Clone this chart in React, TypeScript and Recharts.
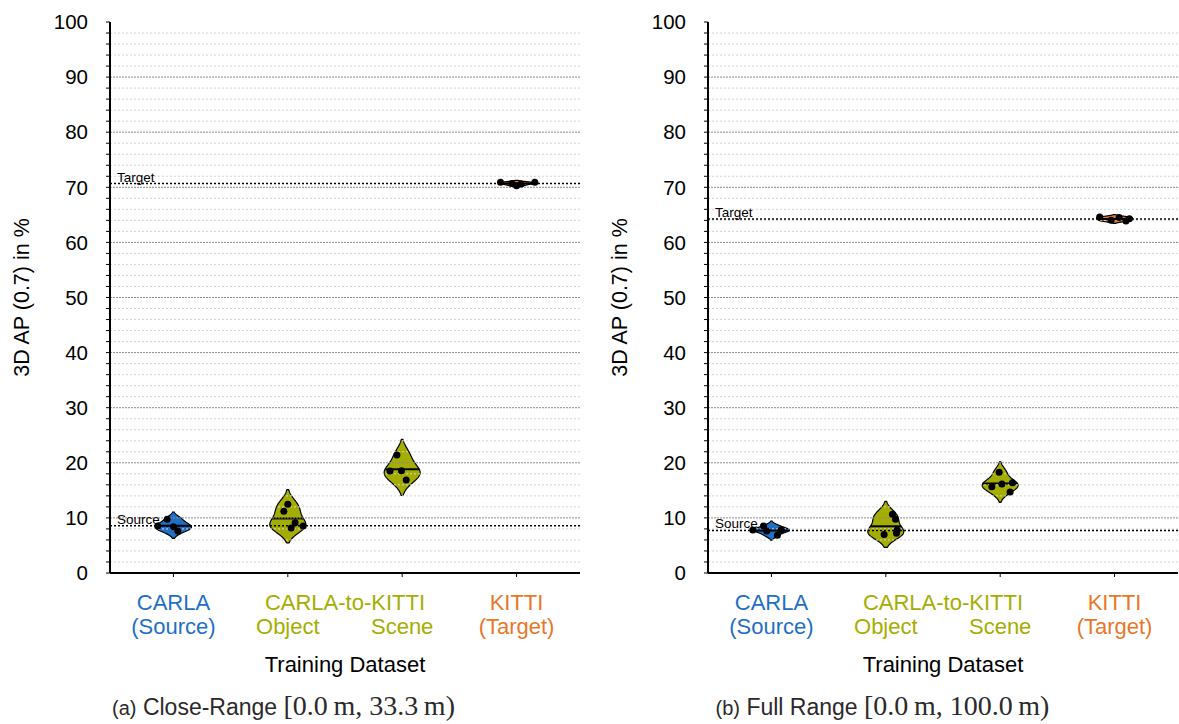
import React from 'react';
import { ComposedChart, Bar, Scatter, XAxis, YAxis, ReferenceLine } from 'recharts';

const FONT = '"Liberation Sans", Arial, Helvetica, sans-serif';
const MATH_FONT = '"Liberation Serif", "Times New Roman", serif';

// one colour per training set (CARLA, Object, Scene, KITTI)
const setColors = ['#1f6fc5', '#a4ae00', '#a4ae00', '#e8772a'];

// x-axis labels: ticks at the four sets plus one shared header between Object and Scene
const tickPositions = [0, 1, 1.5, 2, 3];
const tickTop = ['CARLA', '', 'CARLA-to-KITTI', '', 'KITTI'];
const tickBottom = ['(Source)', 'Object', '', 'Scene', '(Target)'];
const tickColors = ['#1f6fc5', '#a4ae00', '#a4ae00', '#a4ae00', '#e8772a'];

const yLabelTicks = [0, 10, 20, 30, 40, 50, 60, 70, 80, 90, 100];

// 3D AP (0.7) per run, close range [0, 33.3 m)
const closeCarla = [9.74, 8.53, 8.4, 7.62];
const closeObject = [12.47, 11.2, 9.13, 8.17, 8.53];
const closeScene = [21.4, 18.5, 18.57, 16.9];
const closeKitti = [70.9, 70.9, 70.7, 70.3, 70.6];

// strip-plot jitter (in category units)
const closeCarlaJitter = [-0.055, -0.137, 0, 0.038];
const closeObjectJitter = [0, -0.035, 0.064, 0.029, 0.134];
const closeSceneJitter = [-0.046, -0.107, -0.006, 0.035];
const closeKittiJitter = [-0.14, 0.16, -0.04, 0, 0.04];

// 3D AP (0.7) per run, full range [0, 100 m)
const fullCarla = [7.8, 8.53, 7.62, 6.84, 7.86];
const fullObject = [10.65, 9.74, 7.8, 7.2, 7.0];
const fullScene = [18.27, 15.67, 16.15, 16.4, 14.7];
const fullKitti = [64.6, 64.0, 64.5, 63.9, 64.3];

const fullCarlaJitter = [-0.163, -0.07, -0.041, 0.052, 0.085];
const fullObjectJitter = [0.058, 0.085, 0.099, 0.093, -0.015];
const fullSceneJitter = [-0.009, -0.073, 0.015, 0.107, 0.087];
const fullKittiJitter = [-0.13, -0.03, 0.04, 0.1, 0.13];

const X_DOMAIN: [number, number] = [-0.555, 3.555];
const VIOLIN_HALF = 18;

const mean = (v: number[]) => v.reduce((a, b) => a + b, 0) / v.length;

// gaussian KDE with Scott's bandwidth, support cut at 2 bandwidths
function kde(values: number[]) {
  const n = values.length;
  const m = mean(values);
  const sd = Math.sqrt(values.reduce((a, v) => a + (v - m) ** 2, 0) / (n - 1));
  const bw = sd * Math.pow(n, -1 / 5);
  const lo = Math.min(...values) - 2 * bw;
  const hi = Math.max(...values) + 2 * bw;
  const density = (t: number) =>
    values.reduce((a, v) => a + Math.exp(-0.5 * ((t - v) / bw) ** 2), 0);
  return { lo, hi, density };
}

function ViolinShape(props: any) {
  const { x, y, width, height, payload } = props;
  const top = Math.min(y, y + height);
  const h = Math.abs(height);
  const { lo, hi, density } = kde(payload.values);
  const toPx = (v: number) => top + ((hi - v) / (hi - lo)) * h;
  const cx = x + width / 2;
  const steps = 100;
  const samples: number[] = [];
  for (let i = 0; i <= steps; i++) samples.push(hi - (i / steps) * (hi - lo));
  const peak = Math.max(...samples.map(density));
  const half = (v: number) => (density(v) / peak) * VIOLIN_HALF;
  const right = samples.map((v) => `${cx + half(v)},${toPx(v)}`);
  const left = samples.slice().reverse().map((v) => `${cx - half(v)},${toPx(v)}`);
  const my = toPx(payload.mean);
  const mw = half(payload.mean);
  return (
    <g>
      <polygon
        points={[...right, ...left].join(' ')}
        fill={setColors[payload.x]}
        stroke="#000"
        strokeWidth={1.2}
        strokeLinejoin="round"
      />
      <line x1={cx - mw} x2={cx + mw} y1={my} y2={my} stroke="#000" strokeWidth={2} />
    </g>
  );
}

function XTick(props: any) {
  const { x, y, payload } = props;
  const i = tickPositions.indexOf(payload.value);
  const integer = Number.isInteger(payload.value);
  return (
    <g>
      {integer && <line x1={x} x2={x} y1={y} y2={y + 4} stroke="#000" strokeWidth={1} />}
      <text x={x} y={y + 37} textAnchor="middle" fill={tickColors[i]} fontSize={22} fontFamily={FONT}>
        {tickTop[i]}
      </text>
      <text x={x} y={y + 61} textAnchor="middle" fill={tickColors[i]} fontSize={22} fontFamily={FONT}>
        {tickBottom[i]}
      </text>
    </g>
  );
}

const lineLabel = (text: string) => (props: any) => {
  const vb = props.viewBox;
  return (
    <text x={vb.x + 7} y={vb.y - 2} fontSize={13.5} fontFamily={FONT} fill="#000">
      {text}
    </text>
  );
};

type PanelProps = {
  sets: number[][];
  jitters: number[][];
  tag: string;
  title: string;
  range: string;
  left: number;
  width: number;
  marginLeft: number;
  marginRight: number;
  captionWidth: number;
};

function Panel({ sets, jitters, tag, title, range, left, width, marginLeft, marginRight, captionWidth }: PanelProps) {
  const violins = sets.map((values, i) => {
    const k = kde(values);
    return { x: i, values, range: [k.lo, k.hi], mean: mean(values) };
  });
  const points = sets.flatMap((values, i) => values.map((v, j) => ({ x: i + jitters[i][j], y: v })));
  const minor = Array.from({ length: 49 }, (_, i) => (i + 1) * 2).filter((v) => v % 10 !== 0);
  const major = yLabelTicks.filter((v) => v > 0 && v < 100);
  const allTicks = Array.from({ length: 51 }, (_, i) => i * 2);

  return (
    <div style={{ position: 'absolute', left, top: 0, width }}>
      <ComposedChart
        width={width}
        height={690}
        data={violins}
        margin={{ top: 22, right: marginRight, bottom: 17, left: marginLeft }}
      >
        <XAxis
          dataKey="x"
          type="number"
          domain={X_DOMAIN}
          ticks={tickPositions}
          interval={0}
          height={100}
          tickSize={0}
          tickMargin={0}
          tickLine={false}
          tick={<XTick />}
          axisLine={{ stroke: '#000', strokeWidth: 2 }}
          label={(p: any) => (
            <text
              x={p.viewBox.x + p.viewBox.width / 2}
              y={p.viewBox.y + 99}
              textAnchor="middle"
              fontSize={22}
              fontFamily={FONT}
              fill="#000"
            >
              Training Dataset
            </text>
          )}
        />
        <XAxis
          xAxisId="top"
          orientation="top"
          type="number"
          domain={X_DOMAIN}
          height={0}
          tick={false}
          tickLine={false}
          axisLine={{ stroke: '#000', strokeWidth: 2 }}
        />
        <YAxis
          dataKey="y"
          type="number"
          domain={[0, 100]}
          ticks={allTicks}
          interval={0}
          width={60}
          tickSize={4}
          tickMargin={18}
          tickFormatter={(v: number) => (v % 10 === 0 ? String(v) : '')}
          tick={{ fill: '#000', fontSize: 20.5, fontFamily: FONT }}
          tickLine={{ stroke: '#000' }}
          axisLine={{ stroke: '#000', strokeWidth: 2 }}
          label={(p: any) => {
            const cx = p.viewBox.x - 28;
            const cy = p.viewBox.y + p.viewBox.height / 2;
            return (
              <text
                x={cx}
                y={cy}
                transform={`rotate(-90, ${cx}, ${cy})`}
                textAnchor="middle"
                dominantBaseline="central"
                fontSize={21.5}
                fontFamily={FONT}
                fill="#000"
              >
                3D AP (0.7) in %
              </text>
            );
          }}
        />
        <YAxis
          yAxisId="right"
          orientation="right"
          type="number"
          domain={[0, 100]}
          width={0}
          tick={false}
          tickLine={false}
          axisLine={{ stroke: '#000', strokeWidth: 2 }}
        />
        {minor.map((v) => (
          <ReferenceLine key={`m${v}`} y={v} stroke="#d4d4d4" strokeDasharray="2 2" />
        ))}
        {major.map((v) => (
          <ReferenceLine key={`M${v}`} y={v} stroke="#8c8c8c" strokeDasharray="2 1" />
        ))}
        <Bar dataKey="range" barSize={36} shape={<ViolinShape />} isAnimationActive={false} />
        <ReferenceLine
          y={mean(sets[0])}
          stroke="#000"
          strokeWidth={1.5}
          strokeDasharray="2 2"
          label={lineLabel('Source')}
        />
        <ReferenceLine
          y={mean(sets[3])}
          stroke="#000"
          strokeWidth={1.5}
          strokeDasharray="2 2"
          label={lineLabel('Target')}
        />
        <Scatter
          data={points}
          isAnimationActive={false}
          shape={(p: any) => <circle cx={p.cx} cy={p.cy} r={3.5} fill="#000" />}
        />
      </ComposedChart>
      <svg width={captionWidth} height={34} style={{ display: 'block' }}>
        <text x={captionWidth / 2} y={25} textAnchor="middle" fill="#2a2a2a" fontFamily={FONT}>
          <tspan fontSize={20}>{tag}</tspan>
          <tspan fontSize={23}>{` ${title} `}</tspan>
          <tspan fontSize={28} fontFamily={MATH_FONT}>{range}</tspan>
        </text>
      </svg>
    </div>
  );
}

export default function App() {
  return (
    <div
      style={{
        position: 'absolute',
        left: 0,
        top: 0,
        width: 1179,
        height: 724,
        background: '#fff',
        overflow: 'hidden',
      }}
    >
      <Panel
        sets={[closeCarla, closeObject, closeScene, closeKitti]}
        jitters={[closeCarlaJitter, closeObjectJitter, closeSceneJitter, closeKittiJitter]}
        tag="(a)"
        title="Close-Range"
        range={'[0.0\u2009m, 33.3\u2009m)'}
        left={0}
        width={590}
        marginLeft={50}
        marginRight={10}
        captionWidth={567}
      />
      <Panel
        sets={[fullCarla, fullObject, fullScene, fullKitti]}
        jitters={[fullCarlaJitter, fullObjectJitter, fullSceneJitter, fullKittiJitter]}
        tag="(b)"
        title="Full Range"
        range={'[0.0\u2009m, 100.0\u2009m)'}
        left={590}
        width={589}
        marginLeft={58}
        marginRight={1}
        captionWidth={585}
      />
    </div>
  );
}
